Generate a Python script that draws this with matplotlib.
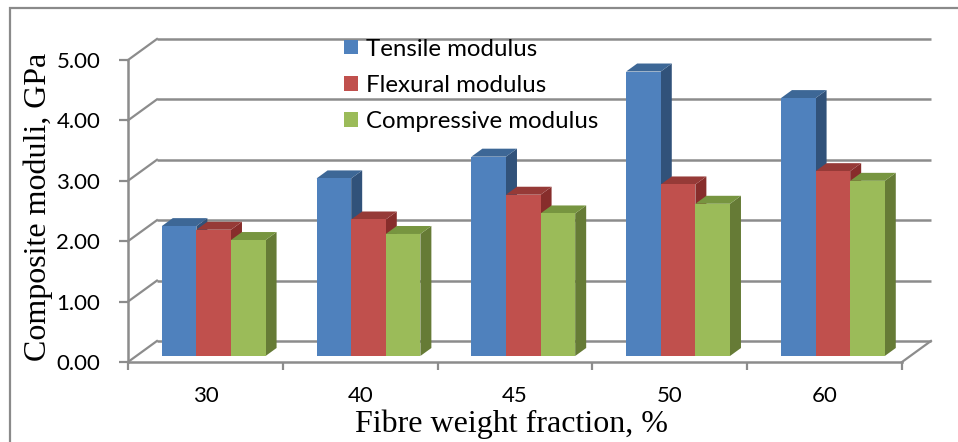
import matplotlib
matplotlib.use("Agg")
import matplotlib.pyplot as plt
from matplotlib.patches import Polygon, Patch, Rectangle
import numpy as np

# ---- data -------------------------------------------------------------
categories = ["30", "40", "45", "50", "60"]
series_names = ["Tensile modulus", "Flexural modulus", "Compressive modulus"]
tensile = [2.15, 2.94, 3.30, 4.71, 4.27]
flexural = [2.09, 2.26, 2.67, 2.84, 3.06]
compressive = [1.92, 2.02, 2.36, 2.52, 2.90]
y_ticks = [0, 1, 2, 3, 4, 5]
y_tick_labels = ["0.00", "1.00", "2.00", "3.00", "4.00", "5.00"]

# ---- style ------------------------------------------------------------
W, H, DPI = 958, 442, 100
front_col = ["#4F81BD", "#C0504D", "#9BBB59"]
side_col = ["#31527A", "#872D2B", "#667B36"]
top_col = ["#3D6796", "#963A37", "#779540"]
grid_col = "#8C8C8C"
sans = ["Lato", "DejaVu Sans"]
serif = ["Liberation Serif", "DejaVu Serif"]

# oblique depth of the whole plot box (data units)
DX, DY = 0.187, 0.348
# bars: front-face depth fraction and bar depth fraction
BAR_F0, BAR_DEPTH = 0.286, 0.38
BAR_W = 0.2235

fig = plt.figure(figsize=(W / DPI, H / DPI), dpi=DPI)
ax = fig.add_axes([128 / W, 80 / H, 774 / W, 302 / H])
ax.set_xlim(0, len(categories))
ax.set_ylim(0, 5)
ax.patch.set_alpha(0)

# outer chart frame
fig.patches.append(Rectangle((9.7 / W, -0.05), 1.2, (442 - 8.3) / H + 0.05,
                             transform=fig.transFigure, fill=False,
                             ec="#8A8A8A", lw=1.6, zorder=0))

# back wall / side wall gridlines
n = len(categories)
for v in y_ticks:
    ax.plot([DX, n + DX], [v + DY, v + DY], color=grid_col, lw=1.8,
            clip_on=False, zorder=1, solid_capstyle="butt")
    ax.plot([0, DX], [v, v + DY], color=grid_col, lw=1.6,
            clip_on=False, zorder=1)
ax.plot([n, n + DX], [0, DY], color=grid_col, lw=1.6, clip_on=False, zorder=1)

# bars
series = [tensile, flexural, compressive]
ox, oy = BAR_F0 * DX, BAR_F0 * DY
bx, by = BAR_DEPTH * DX, BAR_DEPTH * DY
z = 2
for i in range(n):
    center = i + 0.5 + ox
    for s, vals in enumerate(series):
        x0 = center + (s - 1.5) * BAR_W
        x1 = x0 + BAR_W
        h = vals[i]
        base = oy
        side = Polygon([(x1, base), (x1 + bx, base + by), (x1 + bx, base + h + by),
                        (x1, base + h)], closed=True, fc=side_col[s], ec="none",
                       zorder=z, clip_on=False)
        top = Polygon([(x0, base + h), (x0 + bx, base + h + by),
                       (x1 + bx, base + h + by), (x1, base + h)], closed=True,
                      fc=top_col[s], ec="none", zorder=z, clip_on=False)
        ax.add_patch(side)
        ax.add_patch(top)
        ax.bar(x0, h, width=BAR_W, bottom=base, align="edge", color=front_col[s],
               edgecolor="none", zorder=z + 0.5, clip_on=False)
        z += 1

# axes
for sp in ["top", "right"]:
    ax.spines[sp].set_visible(False)
for sp in ["left", "bottom"]:
    ax.spines[sp].set_color(grid_col)
    ax.spines[sp].set_linewidth(1.8)
    ax.spines[sp].set_zorder(1.5)

ax.set_yticks(y_ticks)
ax.set_yticklabels(y_tick_labels, family=sans, fontsize=16)
ax.tick_params(axis="y", direction="out", length=6.5, width=1.6,
               color=grid_col, pad=13.5)
ax.set_xticks(np.arange(n + 1))
ax.set_xticklabels([])
ax.set_xticks(np.arange(n) + 0.5, minor=True)
ax.set_xticklabels(categories, minor=True, family=sans, fontsize=16)
ax.tick_params(axis="x", which="major", direction="out", length=6,
               width=1.6, color=grid_col)
ax.tick_params(axis="x", which="minor", length=0, pad=17.5)

ax.set_ylabel("Composite moduli, GPa", family=serif, fontsize=23)
ax.yaxis.set_label_coords(-0.1163, 0.513)
ax.yaxis.label.set_va("center")
ax.set_xlabel("Fibre weight fraction, %", family=serif, fontsize=23)
ax.xaxis.set_label_coords(0.496, -0.205)
ax.xaxis.label.set_va("center")

handles = [Patch(facecolor=c, edgecolor="none") for c in front_col]
leg = ax.legend(handles, series_names, loc="upper left",
                bbox_to_anchor=(344 / W, 1 - 38.5 / H), bbox_transform=fig.transFigure,
                frameon=False, prop={"family": sans, "size": 17.3},
                handlelength=0.58, handleheight=0.58, handletextpad=0.32,
                labelspacing=0.63, borderpad=0, borderaxespad=0)
leg.set_zorder(50)

fig.savefig("out.png", dpi=DPI)
